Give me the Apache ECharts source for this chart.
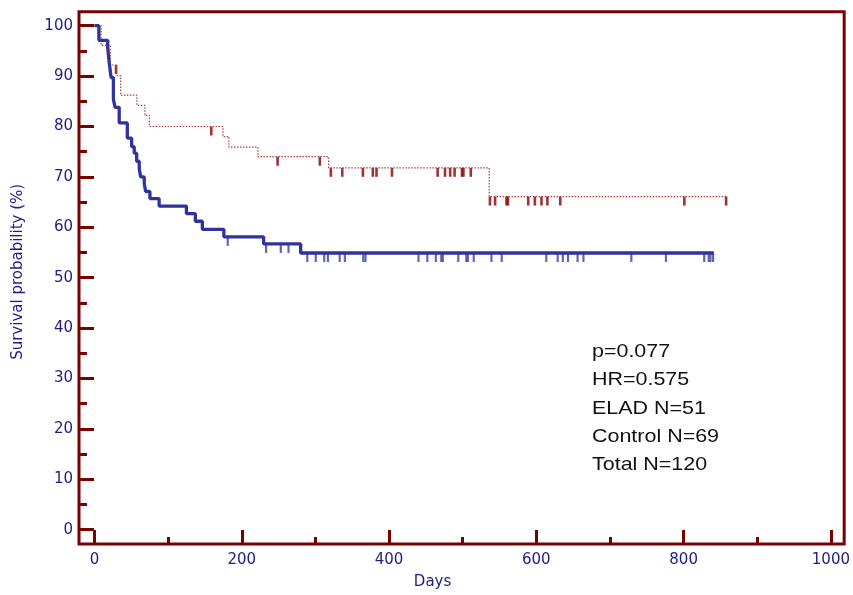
<!DOCTYPE html>
<html>
<head>
<meta charset="utf-8">
<script src="https://cdn.jsdelivr.net/npm/echarts@6/dist/echarts.min.js"></script>
<style>
  html, body { margin: 0; padding: 0; background: #fff; }
  #chart { width: 853px; height: 595px; }
</style>
</head>
<body>
<div id="chart"></div>
<script>
// Kaplan-Meier steps (day of drop, survival % after it)
const eladDays = [0, 9, 21.5, 30, 35.6, 57.5, 68.5, 74.5, 174.4, 182.5, 222, 318, 536, 858];
const eladSurv = [100, 96.1, 92.2, 90.1, 86.2, 84.2, 82.2, 80.0, 78.0, 75.9, 74.0, 71.8, 66.1, 66.1];
const eladCensored = [29.3, 158.6, 248.7, 306, 321, 336.5, 364.5, 378, 383, 404, 466, 476, 483, 489,
  499, 501, 511, 537, 544, 559.5, 561.5, 589, 598, 607, 615, 632.5, 801, 857.7];

const controlDays = [0, 6, 18, 20, 22.6, 25.7, 28, 33.6, 44.6, 50.5, 54, 57.3, 60.8, 62.7, 67.6,
  69.5, 75.3, 87.8, 124.9, 137, 146.5, 175.7, 229.7, 280, 841];
const controlSurv = [100, 97.1, 95.6, 92.7, 89.7, 85.4, 83.8, 80.7, 77.7, 76.0, 74.7, 73.1, 71.6, 70.0, 68.7,
  67.1, 65.7, 64.2, 62.7, 61.2, 59.6, 58.1, 56.7, 54.9, 54.9];
const controlCensored = [181, 233, 253, 263.5, 289, 300.5, 312, 317, 333, 340, 365, 368, 440, 452, 463.5,
  471, 473, 494, 505, 507, 515, 539, 553, 613.5, 629, 636, 643, 656, 664, 729, 776, 828, 834, 836.5, 840];

const xMajorTicks = [0, 200, 400, 600, 800, 1000];
const xMinorTicks = [100, 300, 500, 700, 900];
const yMajorTicks = [0, 10, 20, 30, 40, 50, 60, 70, 80, 90, 100];
const yMinorTicks = [5, 15, 25, 35, 45, 55, 65, 75, 85, 95];

const statLines = ['p=0.077', 'HR=0.575', 'ELAD N=51', 'Control N=69', 'Total N=120'];

const frameColor = '#7a0000';
const labelColor = '#1d1d8a';
const axisFont = 'DejaVu Sans';

function levelAt(days, surv, d) {
  let v = surv[0];
  for (let i = 0; i < days.length; i++) {
    if (days[i] <= d) v = surv[i];
  }
  return v;
}

const eladLine = eladDays.map((d, i) => [d, eladSurv[i]]);
const controlLine = controlDays.map((d, i) => [d, controlSurv[i]]);
const eladMarks = eladCensored.map(d => [d, levelAt(eladDays, eladSurv, d)]);
const controlMarks = controlCensored.map(d => [d, levelAt(controlDays, controlSurv, d)]);

const chart = echarts.init(document.getElementById('chart'), null, { renderer: 'canvas' });

const tickStyle = { color: frameColor, width: 3 };

chart.setOption({
  animation: false,
  backgroundColor: '#fff',
  grid: {
    left: 79, right: 5, top: 11.7, bottom: 50,
    show: true, borderColor: frameColor, borderWidth: 3, backgroundColor: 'transparent'
  },
  xAxis: [
    {
      type: 'value', min: -21, max: 1018, position: 'bottom',
      name: 'Days', nameLocation: 'middle', nameGap: 31,
      nameTextStyle: { color: labelColor, fontFamily: axisFont, fontSize: 15, padding: [0, 58, 0, 0] },
      axisLine: { show: false, onZero: false },
      splitLine: { show: false },
      axisTick: { inside: true, length: 14, customValues: xMajorTicks, lineStyle: tickStyle },
      axisLabel: {
        customValues: xMajorTicks, margin: 9, color: labelColor, fontFamily: axisFont, fontSize: 15,
        formatter: v => String(v)
      }
    },
    {
      type: 'value', min: -21, max: 1018, position: 'bottom',
      axisLine: { show: false, onZero: false },
      splitLine: { show: false },
      axisTick: { inside: true, length: 7, customValues: xMinorTicks, lineStyle: tickStyle },
      axisLabel: { show: false }
    }
  ],
  yAxis: [
    {
      type: 'value', min: -2.83, max: 102.77, position: 'left',
      name: 'Survival probability (%)', nameLocation: 'middle', nameGap: 53, nameRotate: 90,
      nameTextStyle: { color: labelColor, fontFamily: axisFont, fontSize: 15, padding: [0, 0, 0, 12] },
      axisLine: { show: false, onZero: false },
      splitLine: { show: false },
      axisTick: { inside: true, length: 15, customValues: yMajorTicks, lineStyle: tickStyle },
      axisLabel: {
        customValues: yMajorTicks, margin: 6, color: labelColor, fontFamily: axisFont, fontSize: 15,
        formatter: v => String(v)
      }
    },
    {
      type: 'value', min: -2.83, max: 102.77, position: 'left',
      axisLine: { show: false, onZero: false },
      splitLine: { show: false },
      axisTick: { inside: true, length: 8, customValues: yMinorTicks, lineStyle: tickStyle },
      axisLabel: { show: false }
    }
  ],
  series: [
    {
      name: 'ELAD', type: 'line', step: 'end', data: eladLine,
      showSymbol: false, silent: true,
      lineStyle: { color: '#b23a3a', width: 1.2, type: [1.5, 1.5] }
    },
    {
      name: 'Control', type: 'line', step: 'end', data: controlLine,
      showSymbol: false, silent: true,
      lineStyle: { color: '#30339a', width: 3.3 }
    },
    {
      name: 'ELAD censored', type: 'scatter', data: eladMarks, silent: true,
      symbol: 'rect', symbolSize: [2.6, 9], symbolOffset: [0, 4.5],
      itemStyle: { color: '#870000' }
    },
    {
      name: 'Control censored', type: 'scatter', data: controlMarks, silent: true,
      symbol: 'rect', symbolSize: [2.2, 9], symbolOffset: [0, 4.5],
      itemStyle: { color: '#3a3d9e' }
    }
  ],
  graphic: statLines.map((t, i) => ({
    type: 'text',
    x: 592,
    y: 352 + i * 28.3,
    scaleX: 1.16,
    style: {
      text: t,
      x: 0, y: 0,
      fill: '#111',
      font: '18.5px "Liberation Sans", Arial, sans-serif',
      verticalAlign: 'middle'
    }
  }))
});
</script>
</body>
</html>
